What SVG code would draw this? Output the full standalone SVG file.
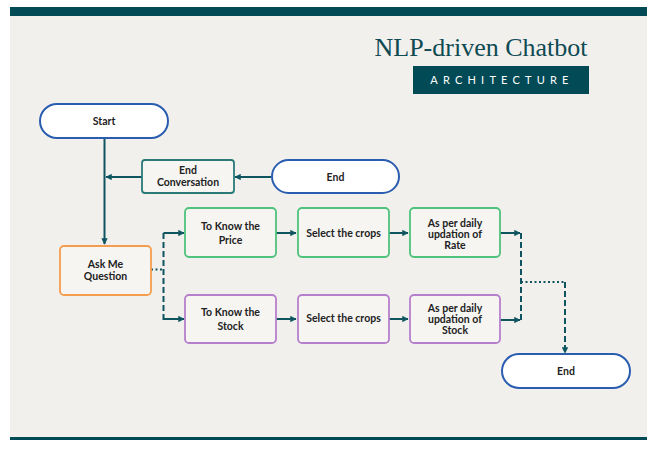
<svg xmlns="http://www.w3.org/2000/svg" width="647" height="450" viewBox="0 0 647 450">
<defs>
<marker id="ah" viewBox="0 0 10 10" refX="9" refY="5" markerWidth="3.2" markerHeight="3.2" orient="auto" markerUnits="strokeWidth">
<path d="M0,0 L10,5 L0,10 z" fill="#0f5560"/>
</marker>
<style>
.lbl{font-family:Lato,"Noto Sans",sans-serif;font-weight:bold;font-size:10.5px;fill:#222;text-anchor:middle}
.pill{fill:#ffffff;stroke:#2a5db0;stroke-width:2}
.g{fill:#f6f5f2;stroke:#4fc27c;stroke-width:1.8}
.p{fill:#f6f5f2;stroke:#b57fcc;stroke-width:1.8}
.c{fill:none;stroke:#0f5560;stroke-width:2}
.d{stroke-dasharray:6 3}
.o{stroke-dasharray:2 2.5}
</style>
</defs>
<rect width="647" height="450" fill="#ffffff"/>
<rect x="10" y="16" width="637" height="421" fill="#f2f0ed"/>
<rect x="10" y="7" width="637" height="9" fill="#024b56"/>
<rect x="10" y="437" width="637" height="3" fill="#024b56"/>
<g id="title">
<text x="481" y="56" font-family="Liberation Serif,serif" font-size="26" fill="#0e4a52" text-anchor="middle">NLP-driven Chatbot</text>
<rect x="413" y="66" width="176" height="28" fill="#024b56"/>
<text x="502" y="84" font-family="Lato,'Noto Sans',sans-serif" font-size="11" fill="#ffffff" text-anchor="middle" letter-spacing="5.2">ARCHITECTURE</text>
</g>
<g id="connectors">
<path class="c" d="M104.5,138 V244" marker-end="url(#ah)"/>
<path class="c" d="M271,177 H235" marker-end="url(#ah)"/>
<path class="c" d="M142,177 H106" marker-end="url(#ah)"/>
<path class="c o" d="M151,269.5 H163.5"/>
<path class="c d" d="M163.5,233 V320"/>
<path class="c" d="M163.5,233 H184" marker-end="url(#ah)"/>
<path class="c" d="M163.5,319 H184" marker-end="url(#ah)"/>
<path class="c" d="M276,233 H296" marker-end="url(#ah)"/>
<path class="c" d="M389,233 H408" marker-end="url(#ah)"/>
<path class="c" d="M276,319 H296" marker-end="url(#ah)"/>
<path class="c" d="M389,319 H408" marker-end="url(#ah)"/>
<path class="c" d="M500,233 H520" marker-end="url(#ah)"/>
<path class="c" d="M500,320 H520" marker-end="url(#ah)"/>
<path class="c d" d="M521,233 V320"/>
<path class="c o" d="M521,282 H565"/>
<path class="c d" d="M565,282 V353" marker-end="url(#ah)"/>
</g>
<g id="start">
<rect class="pill" x="40" y="104" width="128" height="34" rx="17"/>
<text class="lbl" x="104" y="125">Start</text>
</g>
<g id="end-top">
<rect class="pill" x="272" y="160" width="127" height="33" rx="16.5"/>
<text class="lbl" x="335.5" y="181">End</text>
</g>
<g id="end-conversation">
<rect x="142" y="160" width="92" height="33" rx="3" fill="#f6f5f2" stroke="#2b7a78" stroke-width="1.8"/>
<text class="lbl" x="188" y="174">End</text>
<text class="lbl" x="188" y="186">Conversation</text>
</g>
<g id="ask">
<rect x="60" y="246" width="91" height="49" rx="4" fill="#f6f5f2" stroke="#f59d4f" stroke-width="1.8"/>
<text class="lbl" x="105.5" y="268">Ask Me</text>
<text class="lbl" x="105.5" y="280">Question</text>
</g>
<g id="know-price">
<rect class="g" x="185" y="208" width="91" height="49" rx="4"/>
<text class="lbl" x="230.5" y="230">To Know the</text>
<text class="lbl" x="230.5" y="244">Price</text>
</g>
<g id="select-top">
<rect class="g" x="298" y="208" width="91" height="49" rx="4"/>
<text class="lbl" x="343.5" y="237">Select the crops</text>
</g>
<g id="rate">
<rect class="g" x="410" y="208" width="90" height="49" rx="4"/>
<text class="lbl" x="455" y="227">As per daily</text>
<text class="lbl" x="455" y="238">updation of</text>
<text class="lbl" x="455" y="249">Rate</text>
</g>
<g id="know-stock">
<rect class="p" x="185" y="295" width="91" height="48" rx="4"/>
<text class="lbl" x="230.5" y="316">To Know the</text>
<text class="lbl" x="230.5" y="330">Stock</text>
</g>
<g id="select-bottom">
<rect class="p" x="298" y="295" width="91" height="48" rx="4"/>
<text class="lbl" x="343.5" y="322">Select the crops</text>
</g>
<g id="stock">
<rect class="p" x="410" y="295" width="90" height="48" rx="4"/>
<text class="lbl" x="455" y="312">As per daily</text>
<text class="lbl" x="455" y="323">updation of</text>
<text class="lbl" x="455" y="334">Stock</text>
</g>
<g id="end-bottom">
<rect class="pill" x="502" y="354" width="128" height="34" rx="17"/>
<text class="lbl" x="566" y="375">End</text>
</g>
</svg>
